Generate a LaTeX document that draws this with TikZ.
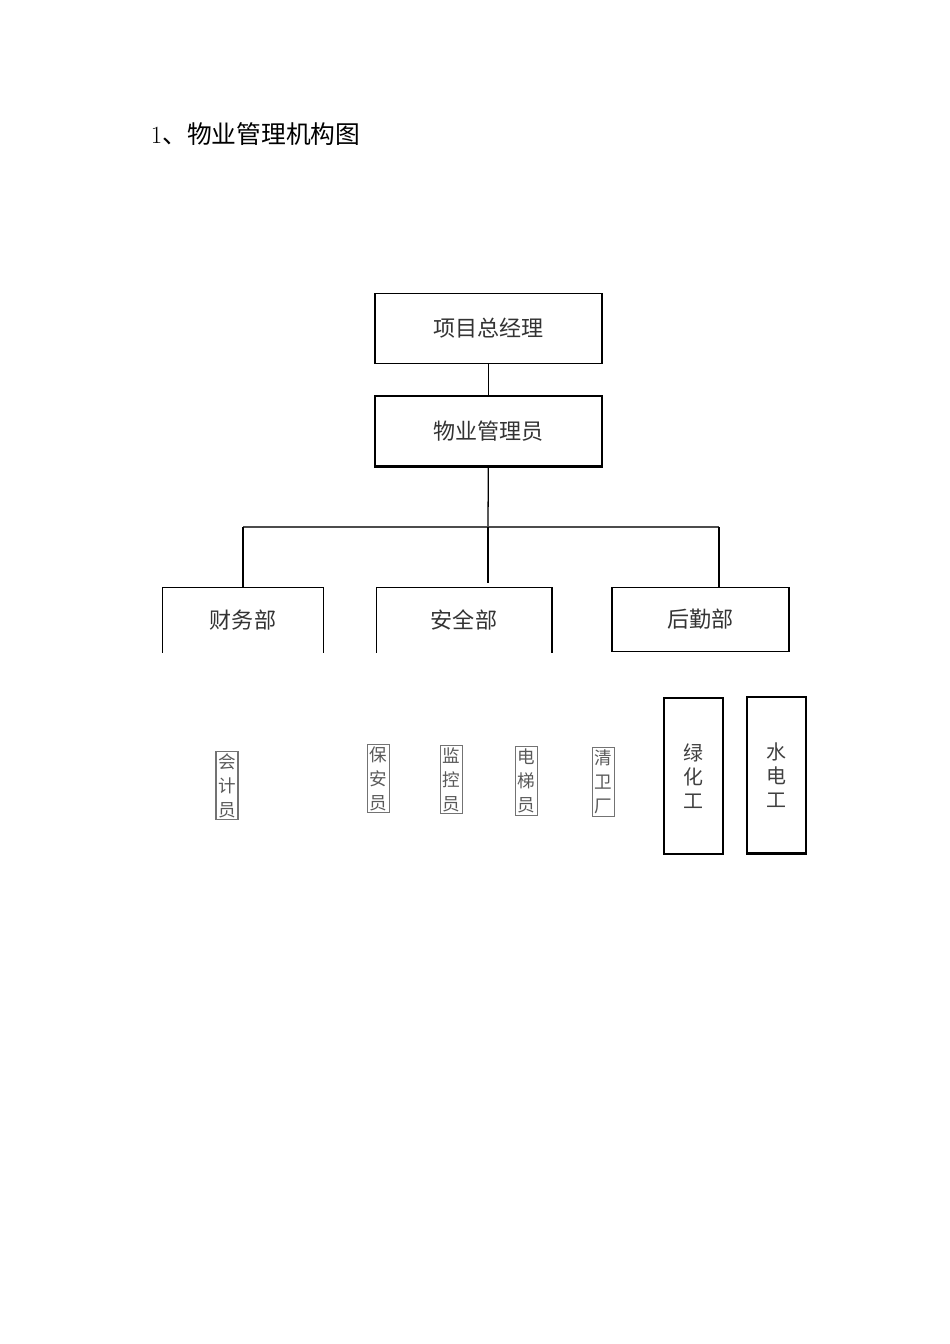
\documentclass[tikz,border=0pt]{standalone}
\usepackage{fontspec}
\newfontfamily\cjk{Noto Sans CJK SC}
\begin{document}
\begin{tikzpicture}[x=0.626pt,y=-0.626pt,line width=0.8pt]
    \tikzstyle{block} = [rectangle,minimum width=142pt,minimum height=43.5pt,text centered,draw=black,font=\cjk\fontsize{13.8}{16}\selectfont,text=black!80]
    \tikzstyle{dept} = [rectangle,minimum height=40.3pt,text centered,font=\cjk\fontsize{13.8}{16}\selectfont,text=black!80]
    \tikzstyle{staff} = [rectangle,draw=black!55,minimum width=13.8pt,minimum height=43pt,inner sep=0.5pt,align=center,font=\cjk\fontsize{11}{15}\selectfont,text=black!65]
    \tikzstyle{tall} = [rectangle,draw=black,minimum width=36.9pt,minimum height=97.7pt,align=center,font=\cjk\fontsize{12.5}{15}\selectfont,text=black!75]
    \useasboundingbox (0,0) rectangle (950,1344);
    \node (title)[anchor=west,font=\fontsize{15.5}{18}\selectfont] at (145,134) {1\cjk 、物业管理机构图};
    % top of the chart
    \node (manager)[block] at (488.5,328.5) {项目总经理};
    \node (keeper)[block] at (488.5,431) {物业管理员};
    \draw [line width=1.4pt] (keeper.north west) -- (keeper.north east);
    \draw [line width=1.8pt] (keeper.south west) -- (keeper.south east);
    \draw (manager) -- (keeper);
    \coordinate (bus) at (488,527);
    \coordinate (busL) at (243,527);
    \coordinate (busR) at (719,527);
    \draw (keeper) -- (bus);
    \draw [line width=1.2pt,draw=black!70] (busL) -- (busR);
    % departments
    \node (finance)[dept,minimum width=100.2pt] at (243,620) {财务部};
    \node (security)[dept,minimum width=108.9pt] at (464,620) {安全部};
    \node (logistics)[dept,draw=black,minimum width=110.8pt] at (700.5,619.5) {后勤部};
    \draw (finance.south west) -- (finance.north west) -- (finance.north east) -- (finance.south east);
    \draw (security.south west) -- (security.north west) -- (security.north east);
    \draw [line width=1.4pt] (security.north east) -- (security.south east);
    \draw (busL) -- (busL |- finance.north);
    \draw (bus) -- ([yshift=2.5pt]bus |- security.north);
    \draw (busR) -- (busR |- logistics.north);
    % staff
    \node (accountant)[staff] at (227,785.5) {会\\计\\员};
    \node (guard)[staff] at (378.5,778.5) {保\\安\\员};
    \node (monitor)[staff] at (451.5,779.5) {监\\控\\员};
    \node (lift)[staff] at (526.5,781) {电\\梯\\员};
    \node (cleaner)[staff] at (603.5,782) {清\\卫\\厂};
    \node (gardener)[tall] at (693.5,776) {绿\\化\\工};
    \node (electrician)[tall] at (776.5,775) {水\\电\\工};
    \draw [line width=1.6pt] (electrician.south west) -- (electrician.south east);
\end{tikzpicture}
\end{document}
